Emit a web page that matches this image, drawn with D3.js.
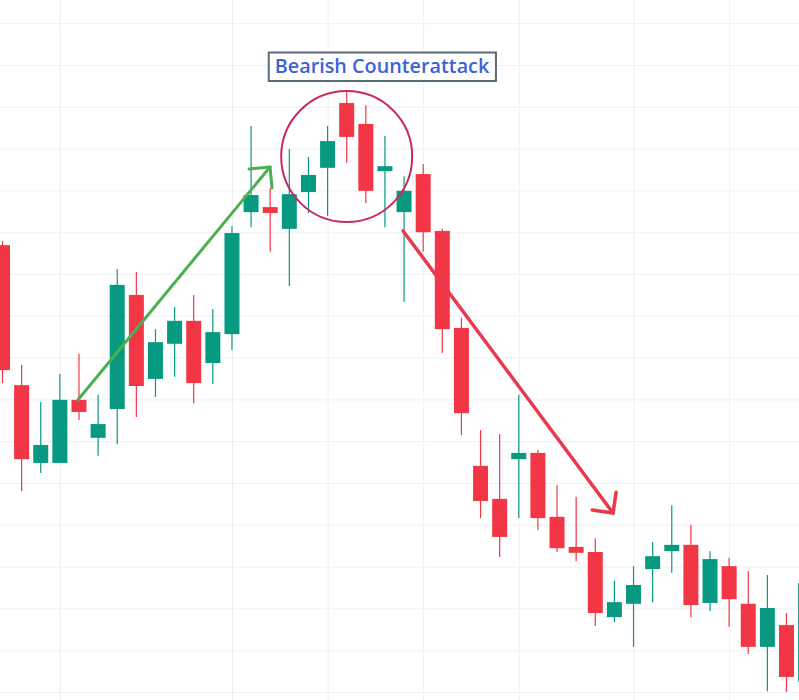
<!DOCTYPE html>
<html lang="en">
<head>
    <meta charset="UTF-8">
    <title>Bearish Counterattack</title>
    <script src="https://d3js.org/d3.v7.min.js"></script>
    <style>
        html, body { margin: 0; padding: 0; background: #ffffff; overflow: hidden; }
        svg { display: block; }
    </style>
</head>
<body>
<div id="chart"></div>
<script>
    // candle data (arbitrary price units)
    const bars   = d3.range(43);
    const opens  = [1106.9, 1073.4, 1054.8, 1054.8, 1069.9, 1060.8, 1067.7, 1095.0, 1074.9, 1083.3,
                    1088.8, 1078.7, 1085.6, 1114.8, 1116.0, 1110.8, 1119.6, 1125.4, 1140.9, 1135.9,
                    1124.6, 1114.8, 1123.9, 1110.3, 1087.1, 1054.1, 1046.2, 1055.7, 1057.2, 1041.9,
                    1034.7, 1033.5, 1017.9, 1021.1, 1029.4, 1033.7, 1035.2, 1021.3, 1030.1, 1021.1,
                    1010.8, 1016.0, 1002.4];
    const highs  = [1107.9, 1078.2, 1069.4, 1076.1, 1080.9, 1071.1, 1101.2, 1100.5, 1086.8, 1092.1,
                    1095.0, 1091.6, 1111.5, 1135.4, 1120.6, 1129.9, 1128.0, 1135.4, 1143.5, 1140.4,
                    1133.0, 1123.4, 1126.3, 1110.8, 1089.5, 1062.7, 1061.7, 1071.1, 1057.9, 1049.5,
                    1046.7, 1036.8, 1026.6, 1030.1, 1035.9, 1044.7, 1040.0, 1033.7, 1032.1, 1028.9,
                    1028.0, 1018.9, 1028.0];
    const lows   = [1073.9, 1048.1, 1052.4, 1054.8, 1065.1, 1056.5, 1059.3, 1065.8, 1070.6, 1075.4,
                    1069.1, 1073.7, 1081.8, 1111.2, 1105.3, 1097.1, 1114.6, 1113.9, 1126.6, 1117.0,
                    1111.2, 1093.3, 1105.3, 1081.1, 1061.5, 1041.6, 1032.3, 1041.6, 1038.8, 1033.5,
                    1031.3, 1015.8, 1016.7, 1010.8, 1021.5, 1028.5, 1017.9, 1019.4, 1015.6, 1009.1,
                    1000.2, 1000.0, 1000.0];
    const closes = [1077.0, 1055.7, 1059.1, 1069.9, 1067.0, 1064.1, 1097.4, 1073.2, 1083.7, 1088.8,
                    1073.9, 1086.1, 1109.8, 1118.9, 1114.6, 1119.1, 1123.7, 1131.8, 1132.8, 1119.9,
                    1125.8, 1119.9, 1110.0, 1086.8, 1066.7, 1045.7, 1037.1, 1057.2, 1041.6, 1034.4,
                    1033.3, 1018.9, 1021.5, 1025.6, 1032.5, 1035.2, 1020.8, 1031.8, 1022.2, 1010.8,
                    1020.1, 1003.6, 1026.1];

    const gridPrices = d3.range(1000, 1161, 10);
    const gridBars   = [3, 12, 17, 22, 27, 33, 38];

    const labelText = "Bearish Counterattack";

    const width = 799, height = 700;
    const upColor = "#089981", downColor = "#f23645";

    const x = d3.scaleLinear().domain([0, 41]).range([2.5, 786.5]);
    const y = d3.scaleLinear().domain([1000, 1160]).range([692, 23.2]);
    const bodyW = 15;

    const svg = d3.select("#chart").append("svg")
        .attr("width", width)
        .attr("height", height);

    // grid
    svg.append("g")
        .attr("transform", `translate(${width},0)`)
        .call(d3.axisLeft(y).tickValues(gridPrices).tickSize(width).tickFormat(""))
        .call(g => g.select(".domain").remove())
        .call(g => g.selectAll("line").attr("stroke", "#eef0f4"));

    svg.append("g")
        .attr("transform", `translate(0,${height})`)
        .call(d3.axisBottom(x).tickValues(gridBars).tickSize(-height).tickFormat(""))
        .call(g => g.select(".domain").remove())
        .call(g => g.selectAll("line").attr("stroke", "#eef0f4"));

    // candles
    const candles = bars.map(i => ({
        i, open: opens[i], high: highs[i], low: lows[i], close: closes[i]
    }));

    const c = svg.append("g").selectAll("g")
        .data(candles)
        .enter().append("g");

    c.append("line")
        .attr("x1", d => x(d.i))
        .attr("x2", d => x(d.i))
        .attr("y1", d => y(d.high))
        .attr("y2", d => y(d.low))
        .attr("stroke", d => d.close >= d.open ? upColor : downColor)
        .attr("stroke-width", 1.2);

    c.append("rect")
        .attr("x", d => x(d.i) - bodyW / 2)
        .attr("y", d => y(Math.max(d.open, d.close)))
        .attr("width", bodyW)
        .attr("height", d => Math.max(1, Math.abs(y(d.open) - y(d.close))))
        .attr("fill", d => d.close >= d.open ? upColor : downColor);

    // arrows, given in bar index / price
    function drawArrow(from, to, color, w) {
        const x0 = x(from[0]), y0 = y(from[1]);
        const x1 = x(to[0]), y1 = y(to[1]);
        const a = Math.atan2(y0 - y1, x0 - x1);
        const len = 21, spread = Math.PI / 4;
        const head = [
            [x1 + len * Math.cos(a + spread), y1 + len * Math.sin(a + spread)],
            [x1, y1],
            [x1 + len * Math.cos(a - spread), y1 + len * Math.sin(a - spread)]
        ];
        svg.append("line")
            .attr("x1", x0).attr("y1", y0)
            .attr("x2", x1).attr("y2", y1)
            .attr("stroke", color)
            .attr("stroke-width", w)
            .attr("stroke-linecap", "round");
        svg.append("path")
            .attr("d", d3.line()(head))
            .attr("fill", "none")
            .attr("stroke", color)
            .attr("stroke-width", w)
            .attr("stroke-linecap", "round")
            .attr("stroke-linejoin", "round");
    }

    drawArrow([3.95, 1069.9], [13.99, 1125.6], "#4caf50", 3);
    drawArrow([20.95, 1110.3], [31.93, 1042.8], "#e8394f", 3.5);

    // circle round the pattern
    svg.append("circle")
        .attr("cx", x(18))
        .attr("cy", y(1128.1))
        .attr("r", 65.5)
        .attr("fill", "none")
        .attr("stroke", "#cc2860")
        .attr("stroke-width", 2);

    // label
    const label = svg.append("g");
    const txt = label.append("text")
        .attr("x", 382)
        .attr("y", 73)
        .attr("text-anchor", "middle")
        .attr("font-family", "'Open Sans', sans-serif")
        .attr("font-weight", 600)
        .attr("font-size", 19.8)
        .attr("fill", "#3b63d6")
        .text(labelText);
    const bb = txt.node().getBBox();
    label.insert("rect", "text")
        .attr("x", bb.x - 6)
        .attr("y", 52.5)
        .attr("width", bb.width + 12)
        .attr("height", 28.5)
        .attr("fill", "#ffffff")
        .attr("stroke", "#5b6b78")
        .attr("stroke-width", 2);
</script>
</body>
</html>
